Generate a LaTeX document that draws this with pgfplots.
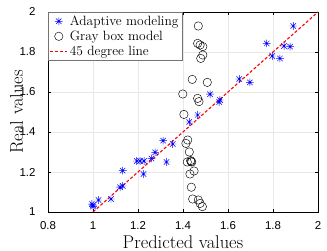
\documentclass[border=0pt]{standalone}
\usepackage{fontspec}
\usepackage{pgfplots}
\pgfplotsset{compat=1.18}
\setmainfont{Latin Modern Roman}
\newfontfamily\tickfont{Liberation Sans}
\pgfdeclareplotmark{mstar}{%
  \pgfpathmoveto{\pgfqpoint{-\pgfplotmarksize}{0pt}}\pgfpathlineto{\pgfqpoint{\pgfplotmarksize}{0pt}}%
  \pgfpathmoveto{\pgfqpoint{0pt}{-\pgfplotmarksize}}\pgfpathlineto{\pgfqpoint{0pt}{\pgfplotmarksize}}%
  \pgfpathmoveto{\pgfqpoint{-0.707\pgfplotmarksize}{-0.707\pgfplotmarksize}}\pgfpathlineto{\pgfqpoint{0.707\pgfplotmarksize}{0.707\pgfplotmarksize}}%
  \pgfpathmoveto{\pgfqpoint{-0.707\pgfplotmarksize}{0.707\pgfplotmarksize}}\pgfpathlineto{\pgfqpoint{0.707\pgfplotmarksize}{-0.707\pgfplotmarksize}}%
  \pgfusepathqstroke}
\begin{document}
\begin{tikzpicture}
\begin{axis}[
  name=ax,
  scale only axis,
  width=270bp, height=200bp,
  xmin=0.8, xmax=2, ymin=1, ymax=2,
  xtick={0.8,1,1.2,1.4,1.6,1.8,2},
  ytick={1,1.2,1.4,1.6,1.8,2},
  grid=major,
  major grid style={gray!18, line width=0.4pt},
  axis line style={black, line width=0.5pt},
  tick style={black, line width=0.4pt},
  tick align=inside,
  major tick length=3bp,
  /pgf/number format/assume math mode=true,
  tick label style={font=\tickfont\fontsize{11.5}{13}\selectfont},
  xticklabel shift=6bp,
  yticklabel shift=9bp,
  xlabel={Predicted values},
  ylabel={Real values},
  label style={font=\fontsize{18.5}{21}\selectfont},
  xlabel style={at={(axis description cs:0.5,0)}, anchor=base, yshift=-36.5bp, inner sep=0pt},
  ylabel style={at={(axis description cs:0,0.5)}, anchor=base, yshift=25bp, inner sep=0pt},
  legend cell align=left,
  legend style={font=\fontsize{13.5}{15}\selectfont, draw=black!55, line width=0.5pt, inner sep=1.5bp, row sep=0pt, at={(0,1)}, anchor=north west},
]
\addplot[only marks, mark=mstar, mark size=3.8bp, blue, line width=0.5pt] coordinates {
(1.0,1.035) (0.995,1.04) (1.0,1.027) (1.024,1.06) (1.08,1.065)
(1.12,1.124) (1.132,1.13) (1.132,1.207) (1.194,1.255) (1.209,1.255)
(1.227,1.255) (1.224,1.19) (1.26,1.268) (1.276,1.298) (1.312,1.357)
(1.354,1.34) (1.327,1.25) (1.428,1.45) (1.465,1.485) (1.561,1.55)
(1.564,1.56) (1.52,1.589) (1.65,1.665) (1.697,1.648) (1.772,1.843)
(1.797,1.78) (1.831,1.768) (1.849,1.83) (1.876,1.827) (1.89,1.93)
};
\addlegendentry{Adaptive modeling}
\addplot[only marks, mark=o, mark size=4.2bp, black, line width=0.45pt] coordinates {
(1.468,1.93) (1.465,1.843) (1.476,1.835) (1.488,1.827) (1.488,1.785)
(1.479,1.768) (1.441,1.663) (1.508,1.648) (1.399,1.59) (1.465,1.568)
(1.471,1.552) (1.404,1.488) (1.421,1.36) (1.413,1.343) (1.428,1.30)
(1.419,1.25) (1.434,1.257) (1.439,1.25) (1.436,1.252) (1.449,1.205)
(1.431,1.19) (1.437,1.124) (1.443,1.065) (1.468,1.06) (1.476,1.043)
(1.486,1.027)
};
\addlegendentry{Gray box model}
\addplot[red, line width=1.1pt, dash pattern=on 3bp off 2bp] coordinates {(1,1) (2,2)};
\addlegendentry{45 degree line}
\end{axis}
\pgfresetboundingbox
\path (ax.south west) ++(-48bp,-39bp) coordinate (bl);
\path (ax.north east) ++(9bp,12bp) coordinate (tr);
\path[use as bounding box] (bl) rectangle (tr);
\end{tikzpicture}
\end{document}
